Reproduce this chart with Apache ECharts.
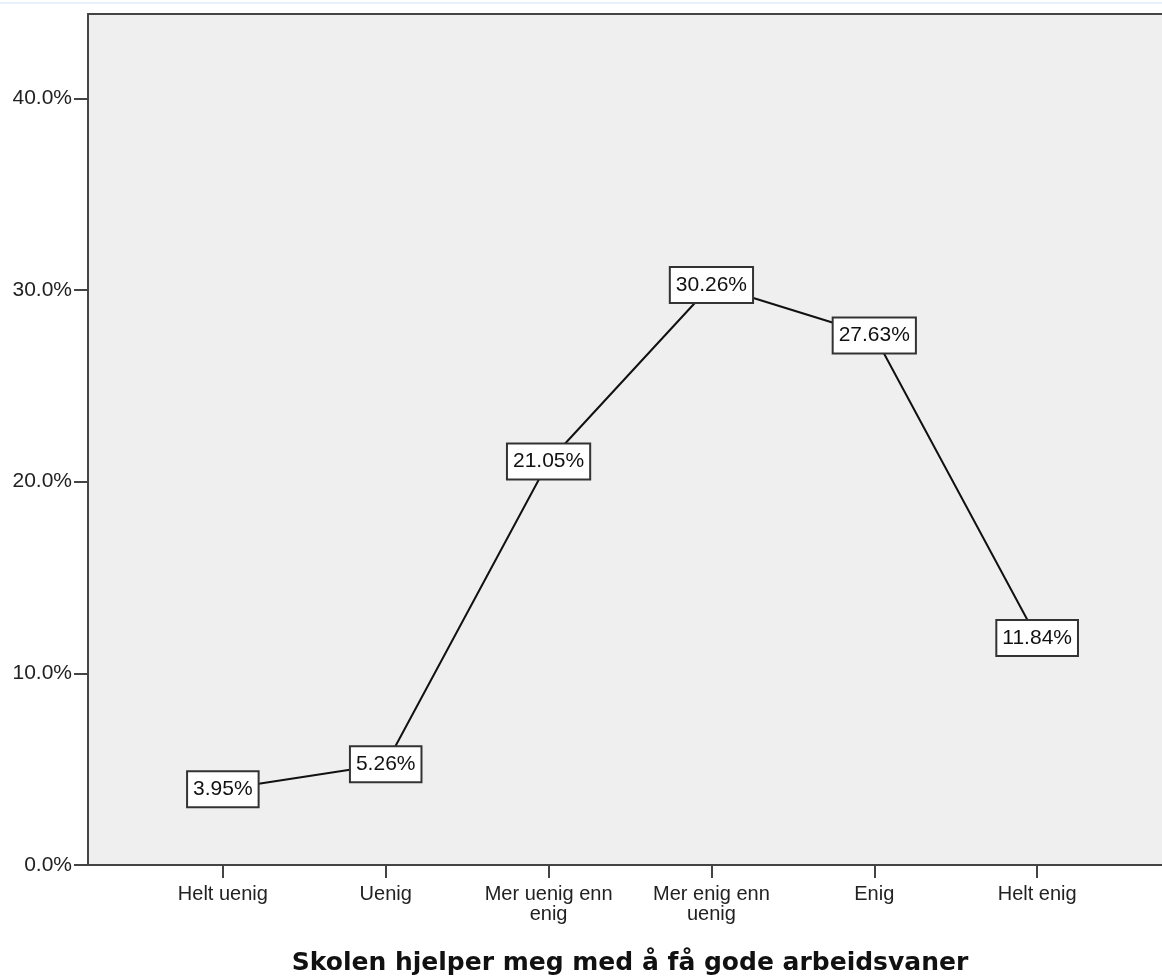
<!DOCTYPE html>
<html>
<head>
<meta charset="utf-8">
<script src="https://cdn.jsdelivr.net/npm/echarts@6/dist/echarts.min.js"></script>
<style>
html,body{margin:0;padding:0;background:#fff;}
#chart{width:1162px;height:978px;}
</style>
</head>
<body>
<div id="chart"></div>
<script>
const categories = ['Helt uenig', 'Uenig', 'Mer uenig enn\nenig', 'Mer enig enn\nuenig', 'Enig', 'Helt enig'];
const percentValues = [3.95, 5.26, 21.05, 30.26, 27.63, 11.84];
const yTicks = [0, 10, 20, 30, 40];
const xTitle = 'Skolen hjelper meg med å få gode arbeidsvaner';

const idx = categories.map((c, i) => i);
const chart = echarts.init(document.getElementById('chart'), null, {renderer: 'canvas'});
const font = 'Liberation Sans, Arial, sans-serif';
const axisColor = '#444';

chart.setOption({
  animation: false,
  backgroundColor: '#ffffff',
  textStyle: {fontFamily: font},
  graphic: [{
    type: 'rect', left: 0, top: 2, z: 100,
    shape: {width: 1162, height: 2},
    style: {fill: '#e8f0fb'}
  }],
  grid: {
    left: 88, top: 14, right: -10, bottom: 113,
    outerBoundsMode: 'none',
    containLabel: false,
    show: true, backgroundColor: '#efefef',
    borderWidth: 0
  },
  xAxis: [{
    type: 'value',
    min: -0.828, max: 5.828,
    name: xTitle,
    nameLocation: 'middle',
    nameGap: 86,
    nameTextStyle: {fontFamily: 'DejaVu Sans, sans-serif', fontSize: 25, fontWeight: 'bold', color: '#111'},
    axisLine: {show: true, onZero: false, lineStyle: {color: axisColor, width: 2}},
    axisTick: {show: true, length: 13, customValues: idx, lineStyle: {color: axisColor, width: 2}},
    splitLine: {show: false},
    axisLabel: {
      customValues: idx,
      margin: 19,
      fontFamily: font, fontSize: 20, lineHeight: 20, color: '#222',
      align: 'center',
      formatter: v => categories[Math.round(v)] ?? ''
    }
  }, {
    type: 'value',
    position: 'top',
    min: -0.828, max: 5.828,
    axisLine: {show: true, onZero: false, lineStyle: {color: axisColor, width: 2}},
    axisTick: {show: false},
    axisLabel: {show: false},
    splitLine: {show: false}
  }],
  yAxis: {
    type: 'value',
    min: yTicks[0], max: 44.4, interval: 10,
    axisLine: {show: true, onZero: false, lineStyle: {color: axisColor, width: 2}},
    axisTick: {show: true, length: 14, customValues: yTicks, lineStyle: {color: axisColor, width: 2}},
    splitLine: {show: false},
    axisLabel: {
      customValues: yTicks,
      margin: 16,
      fontFamily: font, fontSize: 21, color: '#222',
      padding: [8, 0, 0, 0],
      formatter: v => v.toFixed(1) + '%'
    }
  },
  series: [{
    type: 'line',
    xAxisIndex: 0,
    data: percentValues.map((v, i) => [i, v]),
    symbol: 'circle', symbolSize: 1,
    itemStyle: {color: '#000'},
    lineStyle: {color: '#111', width: 2},
    label: {
      show: true, position: 'inside',
      formatter: p => p.value[1].toFixed(2) + '%',
      fontFamily: font, fontSize: 21, lineHeight: 20, color: '#111',
      backgroundColor: '#fff', borderColor: '#333', borderWidth: 2,
      padding: [7, 5, 7, 5]
    },
    emphasis: {disabled: true}
  }]
});
</script>
</body>
</html>
